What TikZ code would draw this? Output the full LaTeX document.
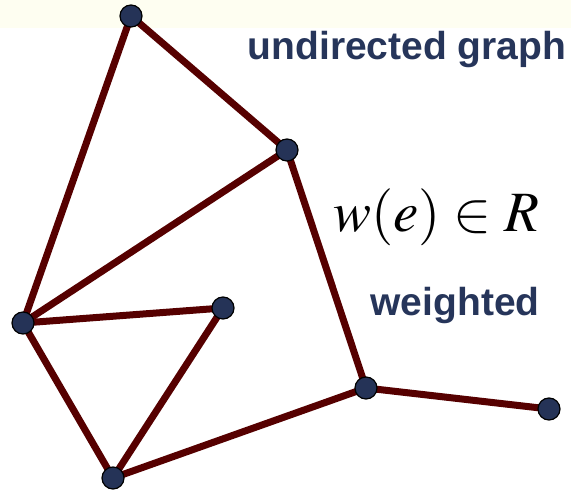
\documentclass[tikz,border=0pt]{standalone}
\usepackage{mathptmx}
\usepackage{fontspec}
\setsansfont{Liberation Sans}
\usetikzlibrary{backgrounds}
\definecolor{vertexblue}{HTML}{253357}
\definecolor{edgered}{HTML}{560000}
\definecolor{labelblue}{HTML}{26355A}
\definecolor{topband}{HTML}{FEFEF1}

\begin{document}
\begin{tikzpicture}[x=1pt,y=-1pt,
  vertex/.style={circle,draw=black,line width=1.2pt,fill=vertexblue,minimum size=22pt,inner sep=0pt},
  edge/.style={edgered,line width=7pt},
  caption/.style={labelblue,font=\sffamily\bfseries\fontsize{39}{44}\selectfont,anchor=base}]
\useasboundingbox (0,0) rectangle (571,492);
\node [vertex] (top) at (131,16) {};
\node [vertex] (upper) at (287,150) {};
\node [vertex] (left) at (23,323) {};
\node [vertex] (mid) at (223,308) {};
\node [vertex] (right) at (366,388) {};
\node [vertex] (far) at (549,409) {};
\node [vertex] (bottom) at (113,478) {};
\begin{pgfonlayer}{background}
\fill [topband] (0,0) rectangle (571,28);
\draw [edge] (top.center) -- (upper.center);
\draw [edge] (top.center) -- (left.center);
\draw [edge] (upper.center) -- (left.center);
\draw [edge] (upper.center) -- (right.center);
\draw [edge] (left.center) -- (mid.center);
\draw [edge] (mid.center) -- (bottom.center);
\draw [edge] (left.center) -- (bottom.center);
\draw [edge] (bottom.center) -- (right.center);
\draw [edge] (right.center) -- (far.center);
\end{pgfonlayer}
\node [caption] (kind) at (407,60) {undirected graph};
\node [caption] (weighted) at (455,316) {weighted};
\node [anchor=base,font=\fontsize{57}{64}\selectfont] (weight) at (436,232) {$w(e)\in R$};
\end{tikzpicture}
\end{document}
